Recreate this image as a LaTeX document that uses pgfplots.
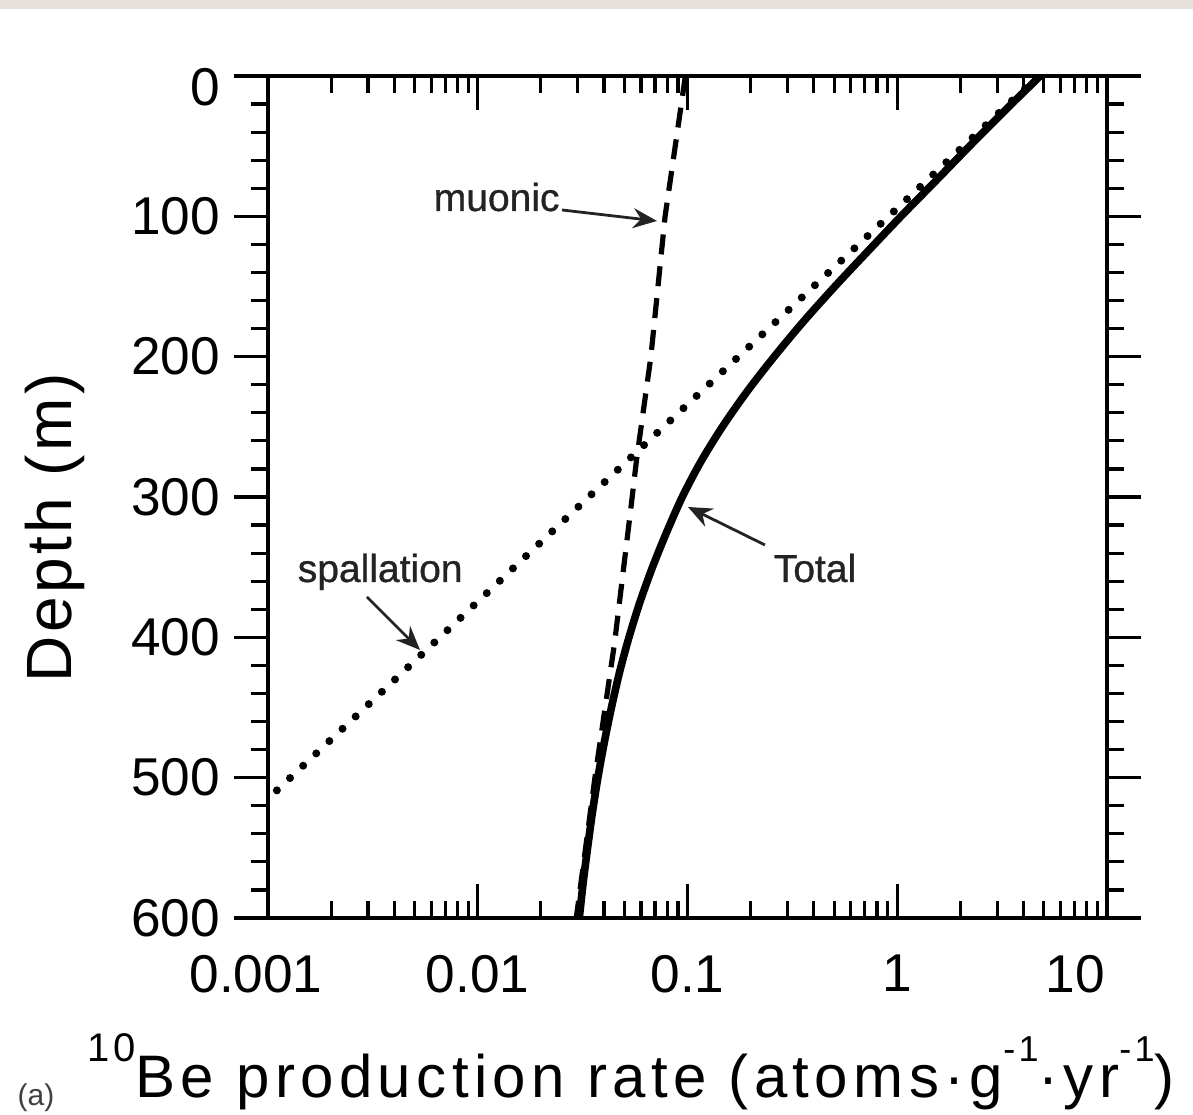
\documentclass[border=0pt]{standalone}
\usepackage{fontspec}
\setmainfont{Liberation Sans}
\newfontfamily\widefont[LetterSpace=9]{Liberation Sans}
\newfontfamily\wideDfont[LetterSpace=5.5]{Liberation Sans}
\newfontfamily\annofont[FakeBold=0.8]{Liberation Sans}
\usepackage{pgfplots}
\pgfplotsset{compat=1.18}
\usetikzlibrary{arrows.meta}
\definecolor{band}{RGB}{232,224,221}
\definecolor{anno}{RGB}{35,35,35}

\begin{document}
\begin{tikzpicture}[x=1pt,y=1pt]
\useasboundingbox (0,0) rectangle (298.25,278.75);
\fill[band] (0,276.5) rectangle (298.25,278.75);
\begin{axis}[
  at={(67pt,49.25pt)}, anchor=south west,
  scale only axis, width=209.75pt, height=210.5pt,
  xmode=log, xmin=0.001, xmax=10,
  ymin=0, ymax=600, y dir=reverse,
  xtick={0.001,0.01,0.1,1,10},
  xticklabels={{\hspace*{-6pt}0.001},0.01,0.1,1,{\hspace*{-16pt}10}},
  minor xtick={0.002,0.003,0.004,0.005,0.006,0.007,0.008,0.009,
               0.02,0.03,0.04,0.05,0.06,0.07,0.08,0.09,
               0.2,0.3,0.4,0.5,0.6,0.7,0.8,0.9,
               2,3,4,5,6,7,8,9},
  ytick={0,100,...,600}, minor y tick num=4,
  yticklabels={{\raisebox{-2.75pt}[\height][\depth]{0}},100,200,300,400,500,600},
  xtick align=inside, ytick align=outside,
  xtick pos=both, ytick pos=both, xticklabel pos=left, yticklabel pos=left,
  major tick length=8.5pt, minor tick length=4.3pt,
  tick label style={font=\fontsize{13.3}{15}\selectfont},
  xticklabel style={yshift=-5.75pt},
  /pgf/number format/assume math mode=true,
  axis line style={line width=1.1pt},
  tick style={line width=0.8pt, black},
]
% spallation (dotted)
\addplot[black, line width=2pt, line cap=round, dash pattern=on 0pt off 4.5pt]
  coordinates {(4.7,0) (0.91,100) (0.175,200) (0.0338,300) (0.0066,400) (0.001,515)};
% muonic (dashed)
\addplot[black, line width=1.3pt, dash pattern=on 5pt off 3pt]
  coordinates {(0.0977,0) (0.0782,100) (0.0669,200) (0.0571,274) (0.0545,300)
               (0.0449,404) (0.0362,500) (0.0295,600)};
% total (solid)
\addplot[black, line width=1.9pt, smooth]
  coordinates {(4.80,0) (3.24,25) (2.21,50) (1.52,75) (1.042,100) (0.723,125)
               (0.504,150) (0.357,175) (0.259,200) (0.192,225) (0.1466,250)
               (0.1156,275) (0.0944,300) (0.0796,325) (0.0681,350) (0.0593,375)
               (0.0526,400) (0.0474,425) (0.0434,450) (0.0401,475) (0.0374,500)
               (0.0352,525) (0.0334,550) (0.0318,575) (0.0305,600)};
\end{axis}
% annotations
\node[anchor=base west, inner sep=0pt, text=anno, font=\annofont\fontsize{9.75}{11}\selectfont] at (108.25,226) {muonic};
\draw[anno, line width=0.7pt, -{Stealth[length=6pt,width=5pt,inset=2pt]}] (140.5,226.25) -- (164.25,223.5);
\node[anchor=base west, inner sep=0pt, text=anno, font=\annofont\fontsize{9.75}{11}\selectfont] at (74.25,133.25) {spallation};
\draw[anno, line width=0.7pt, -{Stealth[length=6pt,width=5pt,inset=2pt]}] (91.75,129.5) -- (105,116.25);
\node[anchor=base west, inner sep=0pt, text=anno, font=\annofont\fontsize{9.75}{11}\selectfont] at (193.25,133.25) {Total};
\draw[anno, line width=0.7pt, -{Stealth[length=6pt,width=5pt,inset=2pt]}] (191.25,142.5) -- (172,152);
% axis labels
\node[rotate=90, anchor=base, inner sep=0pt] at (18,146.75) {\wideDfont\fontsize{16}{19}\selectfont Depth (m)};
\node[anchor=base, inner sep=0pt] at (157.75,4.25) {\widefont\fontsize{15}{18}\selectfont\raisebox{0.6em}{\fontsize{10}{12}\selectfont 10}Be production rate (atoms·g\raisebox{0.6em}{\fontsize{9}{10}\selectfont -1}·yr\raisebox{0.6em}{\fontsize{9}{10}\selectfont -1})};
\node[anchor=base, inner sep=0pt, text=black!75, font=\fontsize{7.5}{9}\selectfont] at (9,2.25) {(a)};
\end{tikzpicture}
\end{document}
